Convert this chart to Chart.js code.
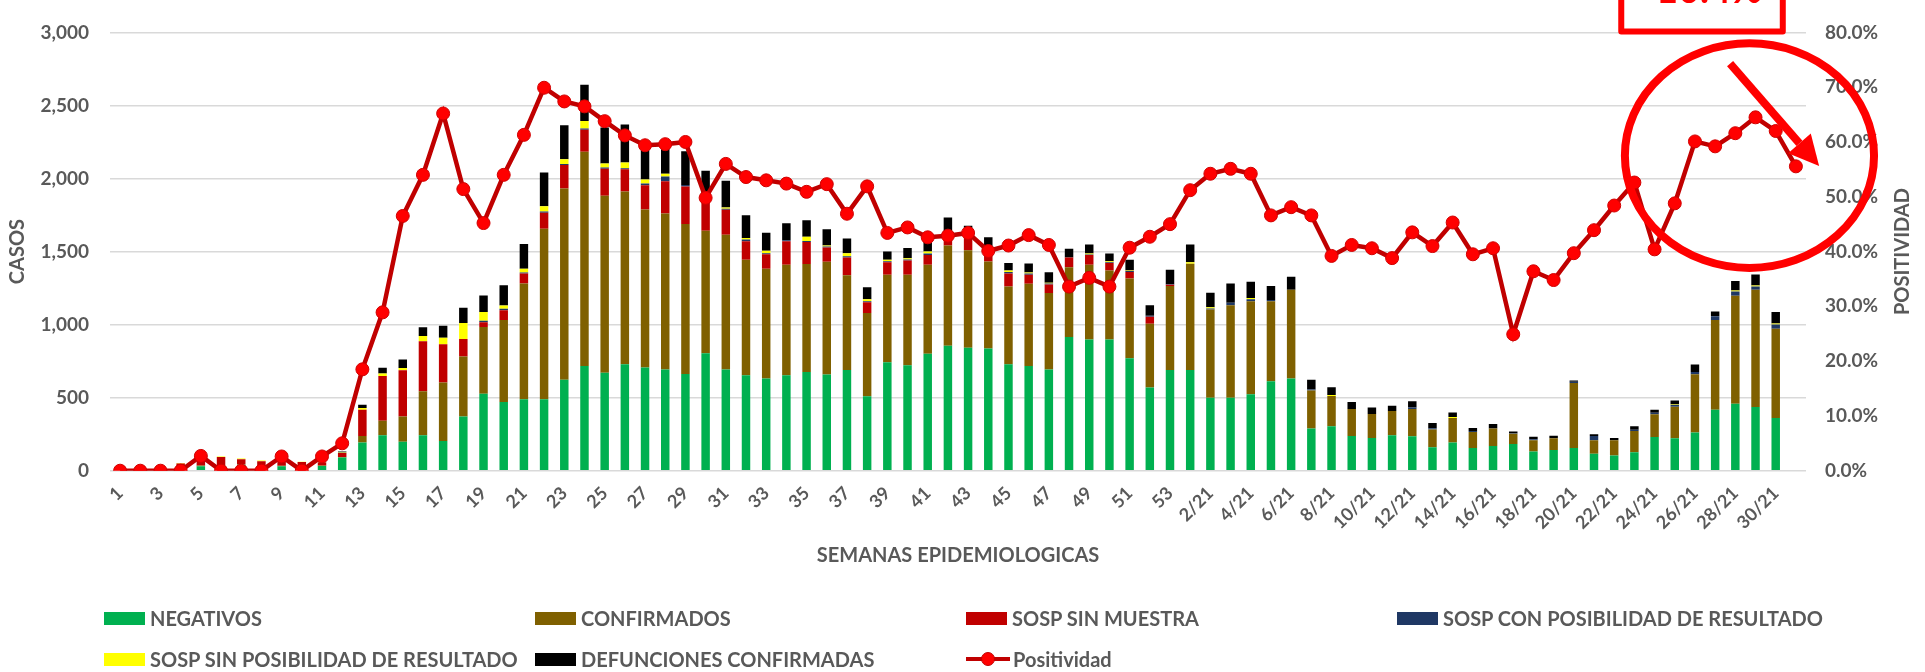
<!DOCTYPE html>
<html>
<head>
<meta charset="utf-8">
<script src="https://cdn.jsdelivr.net/npm/chart.js@4.4.1/dist/chart.umd.min.js"></script>
<style>
  html, body { margin: 0; padding: 0; background: #ffffff; }
  #wrap { position: relative; width: 1925px; height: 672px; overflow: hidden; font-family: Lato, "Noto Sans", sans-serif; }
  #chart { position: absolute; left: 0; top: 0; }
  #legend { position: absolute; left: 104px; top: 597.5px; display: grid; grid-template-columns: repeat(4, 431px); grid-auto-rows: 41px; align-items: center; }
  .item { display: flex; align-items: center; color: #595959; font-weight: 700; font-size: 20px; white-space: nowrap; }
  .swatch { width: 41px; height: 13px; margin-right: 5px; }
  .linekey { position: relative; width: 44px; height: 14px; margin-right: 3px; }
  .linekey .bar { position: absolute; left: 0; right: 0; top: 5px; height: 4px; }
  .linekey .dot { position: absolute; left: 15px; top: 0; width: 12px; height: 12px; border-radius: 50%; border: 1px solid #C00000; }
</style>
</head>
<body>
<div id="wrap">
  <canvas id="chart" width="1925" height="672"></canvas>
  <div id="legend"></div>
</div>
<script>
// Semanas epidemiológicas 2020 (1-53) y 2021 (1/21-31/21)
const categories = [
  '1','2','3','4','5','6','7','8','9','10','11','12','13','14','15','16','17','18','19','20',
  '21','22','23','24','25','26','27','28','29','30','31','32','33','34','35','36','37','38','39','40',
  '41','42','43','44','45','46','47','48','49','50','51','52','53',
  '1/21','2/21','3/21','4/21','5/21','6/21','7/21','8/21','9/21','10/21','11/21','12/21','13/21','14/21','15/21',
  '16/21','17/21','18/21','19/21','20/21','21/21','22/21','23/21','24/21','25/21','26/21','27/21','28/21','29/21','30/21','31/21'
];

const negativos = [
  0,0,0,0,31,35,40,8,31,5,33,90,193,242,198,242,204,371,527,471,
  489,489,622,716,671,729,707,693,662,804,693,653,631,653,676,658,689,509,742,722,
  800,855,842,836,729,716,693,915,898,898,769,569,689,
  689,500,500,524,613,631,289,304,238,224,242,236,160,193,156,
  169,182,131,142,156,116,104,127,231,222,262,418,458,436,360,null
];
const confirmados = [
  0,0,0,0,5,3,3,3,3,0,3,4,44,100,173,302,400,411,456,560,
  793,1167,1309,1467,1211,1182,1080,1067,1027,838,922,791,751,756,738,773,649,571,600,620,
  609,687,667,596,531,564,524,478,511,473,547,436,576,
  727,604,633,636,547,607,260,207,184,164,167,187,122,167,109,
  120,71,78,80,444,93,104,144,156,216,398,613,740,802,611,null
];
const sospSinMuestra = [
  0,0,0,50,40,55,36,54,30,55,20,27,180,307,316,342,262,120,33,67,
  67,109,162,151,184,153,167,222,256,207,171,127,100,162,151,96,122,73,84,96,
  67,62,144,73,89,62,58,67,67,51,44,49,7,
  0,0,0,0,0,0,0,0,0,0,0,0,0,0,0,
  0,0,0,0,0,0,0,0,0,0,0,0,0,0,0,null
];
const sospConPosibilidad = [
  0,0,0,0,0,0,0,0,0,0,0,2,0,0,0,0,0,0,11,11,
  7,9,7,9,9,7,11,31,11,9,7,11,7,7,7,7,7,7,7,7,
  11,0,4,11,11,7,7,0,4,4,7,7,4,
  0,7,16,13,9,0,7,0,0,0,0,9,9,0,7,
  0,4,7,0,9,29,0,9,9,11,16,27,29,22,29,null
];
const sospSinPosibilidad = [
  0,0,0,3,0,4,4,4,3,2,2,3,13,16,16,36,44,109,60,22,
  27,36,31,51,27,38,29,20,0,0,9,11,16,0,29,7,22,13,11,9,
  13,0,0,0,11,7,4,0,7,7,4,0,0,
  11,7,0,9,0,0,0,7,0,0,0,0,0,7,0,
  0,0,0,0,0,0,0,0,0,4,0,0,7,7,7,null
];
const defunciones = [
  0,0,0,0,0,0,0,0,0,0,3,5,22,40,58,60,82,104,113,138,
  169,231,233,247,247,260,226,177,231,195,182,156,124,116,113,111,100,82,56,71,
  90,129,20,82,51,62,73,60,62,53,73,71,100,
  122,100,133,111,95,89,67,53,49,44,36,44,36,31,20,
  31,11,16,18,9,11,16,24,22,27,51,31,64,76,80,null
];
// Positividad semanal (%)
const positividad = [
  0,0,0,0,2.7,0,0,0,2.6,0,2.6,5.0,18.5,28.9,46.5,54.0,65.2,51.4,45.2,54.0,
  61.3,69.9,67.4,66.5,63.8,61.2,59.4,59.6,60.0,49.8,56.0,53.6,53.0,52.4,50.9,52.3,46.9,51.9,43.4,44.4,
  42.6,42.9,43.4,40.1,41.1,43.0,41.2,33.6,35.2,33.6,40.7,42.7,45.0,
  51.2,54.2,55.1,54.2,46.6,48.1,46.6,39.2,41.2,40.6,38.8,43.5,41.0,45.3,39.5,
  40.6,24.9,36.4,34.8,39.7,43.9,48.4,52.6,40.4,48.8,60.1,59.2,61.6,64.5,62.0,55.55
];

const casosTicks = [0, 500, 1000, 1500, 2000, 2500, 3000];
const positividadTicks = [0, 10, 20, 30, 40, 50, 60, 70, 80];

const GREY = '#595959';
const FONT = 'Lato, "Noto Sans", sans-serif';

function barSet(label, data, color) {
  return {
    type: 'bar', label, data, backgroundColor: color, borderWidth: 0,
    yAxisID: 'y', stack: 'casos', order: 2,
    categoryPercentage: 1.0, barPercentage: 0.42
  };
}

// Callout: ellipse + arrow over the last weeks, and a boxed change figure
const callout = {
  id: 'callout',
  afterDraw(chart) {
    const { ctx, scales: { x, y1 }, chartArea } = chart;
    const n = positividad.length;
    const last = positividad[n - 1], prev = positividad[n - 2];
    const change = ((last - prev) / prev * 100).toFixed(1) + '%';
    const stepX = x.getPixelForValue(1) - x.getPixelForValue(0);
    ctx.save();
    ctx.strokeStyle = '#FF0000';
    ctx.fillStyle = '#FF0000';

    // ellipse around the recent positivity values
    const cx = x.getPixelForValue(80.7);
    const cy = y1.getPixelForValue(57.5);
    ctx.lineWidth = 8;
    ctx.beginPath();
    ctx.ellipse(cx, cy, 6.17 * stepX, y1.getPixelForValue(0) - y1.getPixelForValue(20.5), 0, 0, Math.PI * 2);
    ctx.stroke();

    // downward arrow
    const ax0 = x.getPixelForValue(79.74), ay0 = y1.getPixelForValue(74.3);
    const ax1 = x.getPixelForValue(84.15), ay1 = y1.getPixelForValue(55.6);
    const ang = Math.atan2(ay1 - ay0, ax1 - ax0);
    const headLen = 30, headHalf = 15;
    const bx = ax1 - headLen * Math.cos(ang), by = ay1 - headLen * Math.sin(ang);
    ctx.lineWidth = 8;
    ctx.lineCap = 'butt';
    ctx.beginPath();
    ctx.moveTo(ax0, ay0);
    ctx.lineTo(bx, by);
    ctx.stroke();
    ctx.beginPath();
    ctx.moveTo(ax1, ay1);
    ctx.lineTo(bx + headHalf * Math.sin(ang), by - headHalf * Math.cos(ang));
    ctx.lineTo(bx - headHalf * Math.sin(ang), by + headHalf * Math.cos(ang));
    ctx.closePath();
    ctx.fill();

    // boxed figure at the top edge
    const left = x.getPixelForValue(74.35), right = x.getPixelForValue(82.35);
    const bottom = chartArea.top - 1;
    ctx.lineWidth = 6;
    ctx.lineJoin = 'round';
    ctx.beginPath();
    ctx.moveTo(left, -20);
    ctx.lineTo(left, bottom);
    ctx.lineTo(right, bottom);
    ctx.lineTo(right, -20);
    ctx.stroke();
    ctx.font = 'bold 38px ' + FONT;
    ctx.textAlign = 'center';
    ctx.textBaseline = 'alphabetic';
    ctx.fillText(change, (left + right) / 2, 3);

    // right axis title, reading bottom to top
    const t = y1.options.title;
    ctx.fillStyle = GREY;
    ctx.font = 'bold 20px ' + FONT;
    ctx.translate(y1.right - 22.5, (chartArea.top + chartArea.bottom) / 2);
    ctx.rotate(-Math.PI / 2);
    ctx.textAlign = 'center';
    ctx.textBaseline = 'middle';
    ctx.fillText(t.text, 0, 0);
    ctx.restore();
  }
};

const chart = new Chart(document.getElementById('chart'), {
  data: {
    labels: categories,
    datasets: [
      {
        type: 'line', label: 'Positividad', data: positividad, yAxisID: 'y1', order: 1,
        borderColor: '#C00000', borderWidth: 4.5,
        pointRadius: 6.5, pointBackgroundColor: '#FF0000', pointBorderColor: '#D00000', pointBorderWidth: 1,
        tension: 0
      },
      barSet('NEGATIVOS', negativos, '#00B050'),
      barSet('CONFIRMADOS', confirmados, '#7F6000'),
      barSet('SOSP SIN MUESTRA', sospSinMuestra, '#C00000'),
      barSet('SOSP CON POSIBILIDAD DE RESULTADO', sospConPosibilidad, '#1F3864'),
      barSet('SOSP SIN POSIBILIDAD DE RESULTADO', sospSinPosibilidad, '#FFFF00'),
      barSet('DEFUNCIONES CONFIRMADAS', defunciones, '#000000')
    ]
  },
  options: {
    responsive: false,
    animation: false,
    devicePixelRatio: 1,
    layout: { padding: { left: 0, right: 0, top: 21, bottom: 92 } },
    plugins: { legend: { display: false }, tooltip: { enabled: false } },
    scales: {
      x: {
        stacked: true,
        offset: true,
        grid: { display: false, drawTicks: false },
        border: { display: false },
        ticks: {
          autoSkip: false, maxRotation: 45, minRotation: 45, padding: 12,
          color: GREY, font: { family: FONT, size: 18, weight: 'bold' },
          callback(value, index) { return index % 2 === 0 ? categories[index] : ''; }
        },
        title: {
          display: true, text: 'SEMANAS EPIDEMIOLOGICAS', color: GREY,
          font: { family: FONT, size: 20, weight: 'bold', lineHeight: 1.2 },
          padding: { top: 0, bottom: 12 }
        },
        afterFit(s) { s.height = 109.3; }
      },
      y: {
        position: 'left', stacked: true, min: 0, max: 3000,
        grid: { color: '#D9D9D9', lineWidth: 1.5, drawTicks: false },
        border: { display: false },
        afterBuildTicks(s) { s.ticks = casosTicks.map(v => ({ value: v })); },
        ticks: {
          padding: 21, color: GREY, font: { family: FONT, size: 19, weight: 'bold' },
          callback(v) { return v.toLocaleString('en-US'); }
        },
        title: {
          display: true, text: 'CASOS', color: GREY,
          font: { family: FONT, size: 20, weight: 'bold', lineHeight: 1.2 },
          padding: { top: 6, bottom: 0 }
        },
        afterFit(s) { s.width = 110; }
      },
      y1: {
        position: 'right', min: 0, max: 80,
        grid: { display: false, drawTicks: false },
        border: { display: false },
        afterBuildTicks(s) { s.ticks = positividadTicks.map(v => ({ value: v })); },
        ticks: {
          padding: 19, color: GREY, font: { family: FONT, size: 19, weight: 'bold' },
          callback(v) { return v.toFixed(1) + '%'; }
        },
        title: { display: false, text: 'POSITIVIDAD' },
        afterFit(s) { s.width = 119; }
      }
    }
  },
  plugins: [callout]
});

// Legend laid out on a four-column grid below the chart
(function buildLegend() {
  const el = document.getElementById('legend');
  const bars = chart.data.datasets.filter(d => d.type === 'bar');
  const lines = chart.data.datasets.filter(d => d.type === 'line');
  bars.concat(lines).forEach(ds => {
    const item = document.createElement('div');
    item.className = 'item';
    const key = document.createElement('span');
    if (ds.type === 'bar') {
      key.className = 'swatch';
      key.style.background = ds.backgroundColor;
    } else {
      key.className = 'linekey';
      const bar = document.createElement('span');
      bar.className = 'bar';
      bar.style.background = ds.borderColor;
      const dot = document.createElement('span');
      dot.className = 'dot';
      dot.style.background = ds.pointBackgroundColor;
      key.appendChild(bar);
      key.appendChild(dot);
    }
    const txt = document.createElement('span');
    txt.textContent = ds.label;
    item.appendChild(key);
    item.appendChild(txt);
    el.appendChild(item);
  });
})();
</script>
</body>
</html>
